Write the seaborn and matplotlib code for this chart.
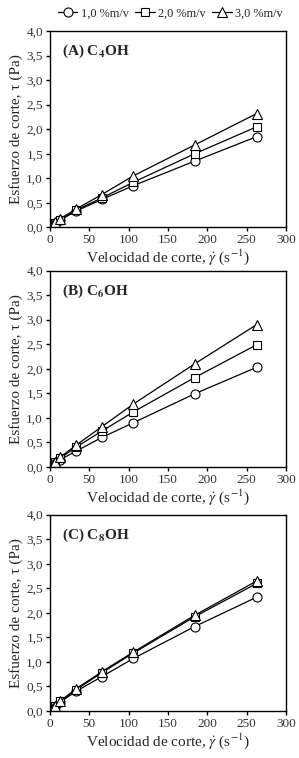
import numpy as np
import pandas as pd
import matplotlib
matplotlib.use("Agg")
import matplotlib.pyplot as plt
import seaborn as sns
from matplotlib.ticker import MultipleLocator, FuncFormatter

# ── DATA ─────────────────────────────────────────────────────
shear_rate = [1.3, 3.3, 6.6, 13.2, 33, 66, 106, 184, 263]
series_names = ["1,0 %m/v", "2,0 %m/v", "3,0 %m/v"]
panel_titles = [r"(A) C$_\mathbf{4}$OH", r"(B) C$_\mathbf{6}$OH", r"(C) C$_\mathbf{8}$OH"]

# panel A (C4OH)
a_10 = [0.02, 0.04, 0.08, 0.15, 0.33, 0.57, 0.85, 1.35, 1.85]
a_20 = [0.03, 0.05, 0.09, 0.16, 0.35, 0.60, 0.92, 1.50, 2.05]
a_30 = [0.03, 0.06, 0.10, 0.18, 0.37, 0.67, 1.05, 1.68, 2.32]
# panel B (C6OH)
b_10 = [0.02, 0.04, 0.08, 0.15, 0.32, 0.60, 0.90, 1.49, 2.03]
b_20 = [0.03, 0.05, 0.10, 0.18, 0.40, 0.73, 1.12, 1.82, 2.49]
b_30 = [0.03, 0.06, 0.11, 0.20, 0.44, 0.82, 1.28, 2.10, 2.90]
# panel C (C8OH)
c_10 = [0.02, 0.05, 0.09, 0.18, 0.40, 0.70, 1.07, 1.72, 2.32]
c_20 = [0.03, 0.06, 0.10, 0.20, 0.43, 0.78, 1.18, 1.92, 2.60]
c_30 = [0.03, 0.06, 0.10, 0.20, 0.45, 0.80, 1.20, 1.95, 2.65]

panels = [[a_10, a_20, a_30], [b_10, b_20, b_30], [c_10, c_20, c_30]]
markers = ["o", "s", "^"]

# ── STYLE ────────────────────────────────────────────────────
sns.set_theme(style="ticks")
plt.rcParams["font.family"] = ["Liberation Serif", "DejaVu Serif"]
plt.rcParams["mathtext.fontset"] = "stix"
plt.rcParams["axes.linewidth"] = 1.0

comma = FuncFormatter(lambda v, p: f"{v:.1f}".replace(".", ","))

fig = plt.figure(figsize=(2.99, 7.58), dpi=100)
bottoms = [0.700, 0.384, 0.062]
axes = [fig.add_axes([0.167, b, 0.789, 0.259]) for b in bottoms]

for ax, series, title in zip(axes, panels, panel_titles):
    for vals, m, name in zip(series, markers, series_names):
        sns.lineplot(x=shear_rate, y=vals, ax=ax, color="black", lw=0.9,
                     marker=m, markersize=6.5 if m != "s" else 6,
                     markerfacecolor="white", markeredgecolor="black",
                     markeredgewidth=0.8, label=name, legend=False)
    ax.set_xlim(0, 300)
    ax.set_ylim(0, 4.0)
    ax.xaxis.set_major_locator(MultipleLocator(50))
    ax.yaxis.set_major_locator(MultipleLocator(0.5))
    ax.yaxis.set_major_formatter(comma)
    ax.tick_params(labelsize=9.5, length=3, width=1.0, direction="out",
                   colors="black", labelcolor="#333333", pad=2)
    ax.set_xlabel(r"Velocidad de corte, $\dot{\gamma}$ (s$^{-1}$)",
                  fontsize=11, labelpad=1)
    ax.set_ylabel(r"Esfuerzo de corte, τ (Pa)", fontsize=11, labelpad=2)
    ax.text(0.05, 0.94, title, transform=ax.transAxes, fontsize=11,
            fontweight="bold", va="top", ha="left")
    for s in ax.spines.values():
        s.set_visible(True)
        s.set_color("black")

handles, labels = axes[0].get_legend_handles_labels()
fig.legend(handles, labels, loc="upper center", bbox_to_anchor=(0.57, 1.0),
           ncol=3, frameon=False, fontsize=8.8, handlelength=1.6,
           handletextpad=0.3, columnspacing=0.5, borderaxespad=0.2)

plt.savefig("out.png", dpi=100)
plt.close()
